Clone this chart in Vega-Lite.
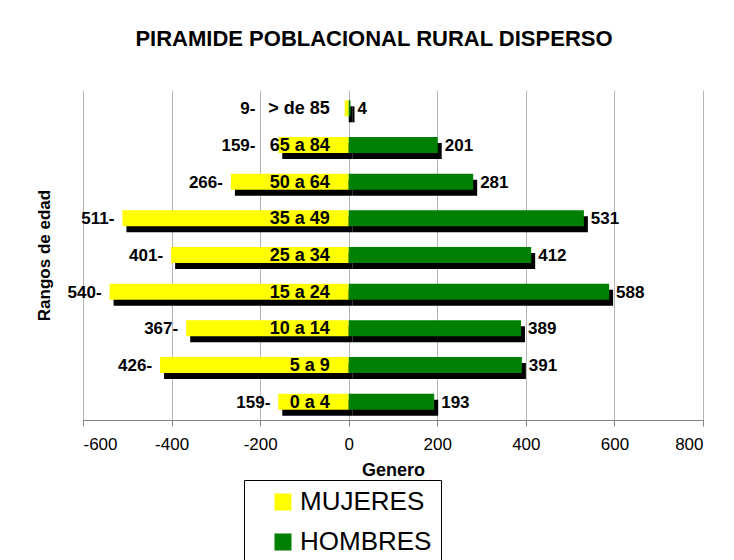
{
  "$schema": "https://vega.github.io/schema/vega-lite/v6.json",
  "autosize": "none",
  "width": 620,
  "height": 330,
  "padding": {"left": 83, "top": 90, "right": 31, "bottom": 140},
  "background": "white",
  "title": {
    "text": "PIRAMIDE POBLACIONAL RURAL DISPERSO",
    "font": "Liberation Sans",
    "fontSize": 22,
    "fontWeight": "bold",
    "color": "black",
    "anchor": "middle",
    "frame": "group",
    "dx": -19,
    "offset": 39
  },
  "data": {
    "values": [
      {"edad": "> de 85", "MUJERES": -9, "HOMBRES": 4},
      {"edad": "65 a 84", "MUJERES": -159, "HOMBRES": 201},
      {"edad": "50 a 64", "MUJERES": -266, "HOMBRES": 281},
      {"edad": "35 a 49", "MUJERES": -511, "HOMBRES": 531},
      {"edad": "25 a 34", "MUJERES": -401, "HOMBRES": 412},
      {"edad": "15 a 24", "MUJERES": -540, "HOMBRES": 588},
      {"edad": "10 a 14", "MUJERES": -367, "HOMBRES": 389},
      {"edad": "5 a 9", "MUJERES": -426, "HOMBRES": 391},
      {"edad": "0 a 4", "MUJERES": -159, "HOMBRES": 193}
    ]
  },
  "encoding": {
    "y": {
      "field": "edad",
      "type": "nominal",
      "sort": null,
      "scale": {"paddingInner": 0.564, "paddingOuter": 0.282},
      "axis": {
        "title": "Rangos de edad",
        "titleFont": "Liberation Sans",
        "titleFontSize": 17,
        "titleFontWeight": "bold",
        "titleColor": "black",
        "titlePadding": 30,
        "labels": false,
        "ticks": false,
        "domain": false
      }
    }
  },
  "layer": [
    {
      "transform": [{"fold": ["MUJERES", "HOMBRES"], "as": ["sexo", "valor"]}],
      "mark": {"type": "bar", "color": "black", "xOffset": 4, "x2Offset": 4, "yOffset": 6, "y2Offset": 6},
      "encoding": {
        "x": {
          "field": "valor",
          "type": "quantitative",
          "scale": {"domain": [-600, 800], "nice": false},
          "axis": {
            "values": [-600, -400, -200, 0, 200, 400, 600, 800],
            "labelExpr": "datum.value < 0 ? '-' + abs(datum.value) : '' + datum.value",
            "title": "Genero",
            "titleFont": "Liberation Sans",
            "titleFontSize": 18,
            "titleFontWeight": "bold",
            "titleColor": "black",
            "titlePadding": 9,
            "labelFont": "Liberation Sans",
            "labelFontSize": 17,
            "labelColor": "black",
            "labelPadding": 10,
            "grid": true,
            "gridColor": "#b4b4b4",
            "gridWidth": 1,
            "domainColor": "#808080",
            "tickColor": "#808080",
            "tickSize": 6
          }
        },
        "x2": {"datum": 0}
      }
    },
    {
      "transform": [{"fold": ["MUJERES", "HOMBRES"], "as": ["sexo", "valor"]}],
      "mark": {"type": "bar"},
      "encoding": {
        "x": {"field": "valor", "type": "quantitative"},
        "x2": {"datum": 0},
        "color": {
          "field": "sexo",
          "type": "nominal",
          "scale": {"domain": ["MUJERES", "HOMBRES"], "range": ["#ffff00", "#008000"]},
          "legend": {
            "title": null,
            "orient": "none",
            "legendX": 161,
            "legendY": 390,
            "direction": "vertical",
            "strokeColor": "black",
            "fillColor": "white",
            "padding": 9,
            "symbolType": "square",
            "symbolSize": 290,
            "symbolStrokeWidth": 0,
            "symbolOffset": 17,
            "labelFont": "Liberation Sans",
            "labelFontSize": 26,
            "labelColor": "black",
            "labelOffset": 4,
            "rowPadding": 14
          }
        }
      }
    },
    {
      "transform": [
        {"calculate": "min(datum.MUJERES, -length(datum.edad) * 27.5)", "as": "pos_m"},
        {"calculate": "format(-datum.MUJERES, 'd') + '-'", "as": "etq_m"}
      ],
      "mark": {"type": "text", "align": "right", "baseline": "middle", "dx": -8, "dy": 1, "font": "Liberation Sans", "fontSize": 17, "fontWeight": "bold", "color": "black"},
      "encoding": {
        "x": {"field": "pos_m", "type": "quantitative"},
        "text": {"field": "etq_m"}
      }
    },
    {
      "mark": {"type": "text", "align": "right", "baseline": "middle", "dx": -19, "dy": 1, "font": "Liberation Sans", "fontSize": 18, "fontWeight": "bold", "color": "black"},
      "encoding": {
        "x": {"datum": 0},
        "text": {"field": "edad"}
      }
    },
    {
      "mark": {"type": "text", "align": "left", "baseline": "middle", "dx": 7, "dy": 1, "font": "Liberation Sans", "fontSize": 17, "fontWeight": "bold", "color": "black"},
      "encoding": {
        "x": {"field": "HOMBRES", "type": "quantitative"},
        "text": {"field": "HOMBRES"}
      }
    }
  ],
  "config": {
    "view": {"stroke": null}
  }
}
